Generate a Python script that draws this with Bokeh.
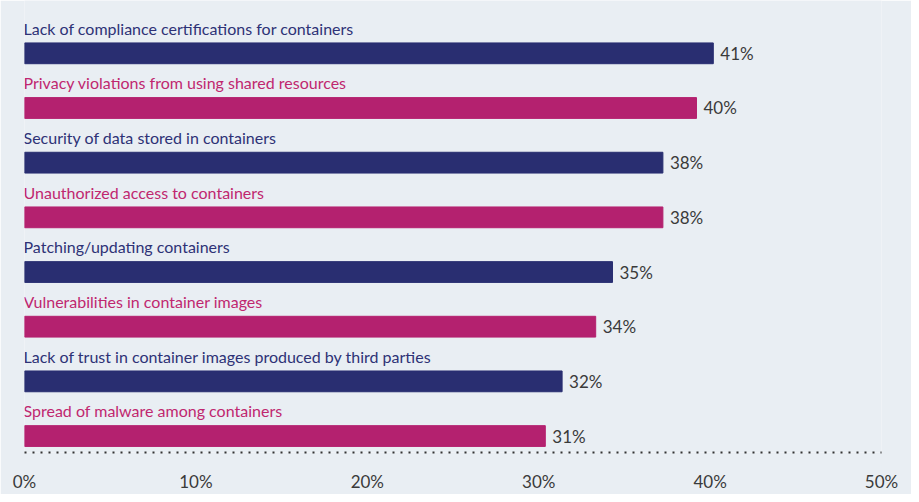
from bokeh.plotting import figure
from bokeh.models import Range1d, LinearAxis, FixedTicker, ColumnDataSource
from bokeh.core.properties import value
from bokeh.embed import file_html
from bokeh.resources import INLINE

categories = [
    "Lack of compliance certifications for containers",
    "Privacy violations from using shared resources",
    "Security of data stored in containers",
    "Unauthorized access to containers",
    "Patching/updating containers",
    "Vulnerabilities in container images",
    "Lack of trust in container images produced by third parties",
    "Spread of malware among containers",
]
values = [41, 40, 38, 38, 35, 34, 32, 31]
tick_values = [0, 10, 20, 30, 40, 50]
tick_labels = ["0%", "10%", "20%", "30%", "40%", "50%"]

NAVY = "#292e71"
MAGENTA = "#b4216f"
NAVY_TXT = "#2e3276"
MAGENTA_TXT = "#c0276f"
BG = "#e9eef3"
FONT = "Lato"

n = len(categories)
ys = [-i for i in range(n)]
bar_colors = [NAVY if i % 2 == 0 else MAGENTA for i in range(n)]
txt_colors = [NAVY_TXT if i % 2 == 0 else MAGENTA_TXT for i in range(n)]
label_ys = [y + 0.46 for y in ys]
value_texts = [f"{v}%" for v in values]

src = ColumnDataSource(dict(y=ys, v=values, c=bar_colors, tc=txt_colors,
                            ly=label_ys, cat=categories, vt=value_texts,
                            zero=[0] * n))

p = figure(width=911, height=494, output_backend="svg", toolbar_location=None,
           x_range=Range1d(0, 857 / 16.8), y_range=Range1d(-7.301, 0.966),
           min_border_left=24, min_border_right=30, min_border_top=0,
           min_border_bottom=36)
p.background_fill_color = BG
p.border_fill_color = BG
p.outline_line_color = None
p.grid.visible = False
p.xaxis.visible = False
p.yaxis.visible = False

p.extra_x_ranges = {"axis": Range1d(0, 50)}

p.hbar(y="y", right="v", left=0, height=0.38, color="c", source=src)
p.text(x="zero", y="ly", text="cat", text_color="tc", source=src,
       text_font=value(FONT), text_font_size="16px", text_baseline="middle",
       text_align="left", x_offset=-1)
p.text(x="v", y="y", text="vt", text_color="#3a3a3a", source=src,
       text_font=value(FONT), text_font_size="17px", text_baseline="middle",
       text_align="left", x_offset=7)

ax = LinearAxis(x_range_name="axis", ticker=FixedTicker(ticks=tick_values),
                major_label_overrides={t: l for t, l in zip(tick_values, tick_labels)})
ax.axis_line_color = "#333333"
ax.axis_line_width = 2
ax.axis_line_dash = "2 6"
ax.major_tick_line_color = None
ax.minor_tick_line_color = None
ax.major_label_text_font = FONT
ax.major_label_text_font_size = "17px"
ax.major_label_text_color = "#3a3a3a"
ax.major_label_standoff = 12
p.add_layout(ax, "below")

open("out.html", "w").write(file_html(p, INLINE))
